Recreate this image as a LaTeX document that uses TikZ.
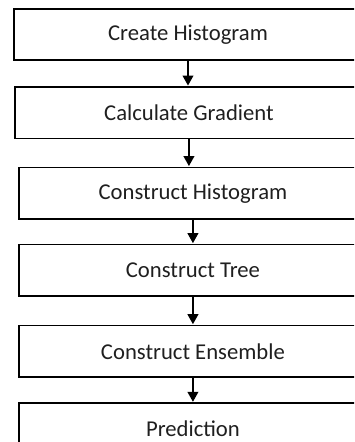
\documentclass[tikz,border=0pt]{standalone}
\usepackage{fontspec}
\setmainfont{Carlito}
\usetikzlibrary{arrows.meta,positioning}
\tikzset{
  stepbox/.style={draw=black, line width=1.2pt, minimum width=261pt, minimum height=38.6pt,
    inner sep=0pt, font=\fontsize{17}{20}\selectfont, text=black!88},
  flow/.style={-{Triangle[width=8pt,length=7.5pt]}, line width=1.3pt, shorten >=0.4pt}
}
\begin{document}
\begin{tikzpicture}[x=0.75pt,y=-0.75pt]
	\useasboundingbox (0,0) rectangle (354,442);
	\clip (0,0) rectangle (354,442);
	
	\node[stepbox] (hist) at (188,34.5)                 {Create Histogram};
	\node[stepbox] (grad)  [below=18.8pt of hist, xshift=0.7pt] {Calculate Gradient};
	\node[stepbox] (chist) [below=20.6pt of grad, xshift=3pt]   {Construct Histogram};
	\node[stepbox] (tree)  [below=18pt of chist]                {Construct Tree};
	\node[stepbox] (ens)   [below=21pt of tree]                 {Construct Ensemble};
	\node[stepbox] (pred)  [below=18.4pt of ens]                {Prediction};
	
	\path[flow]
	(hist.south)  edge (hist.south |- grad.north)
	(grad.south)  edge (grad.south |- chist.north)
	(chist.south) edge (chist.south |- tree.north)
	(tree.south)  edge (tree.south |- ens.north)
	(ens.south)   edge (ens.south |- pred.north);
\end{tikzpicture}
\end{document}
